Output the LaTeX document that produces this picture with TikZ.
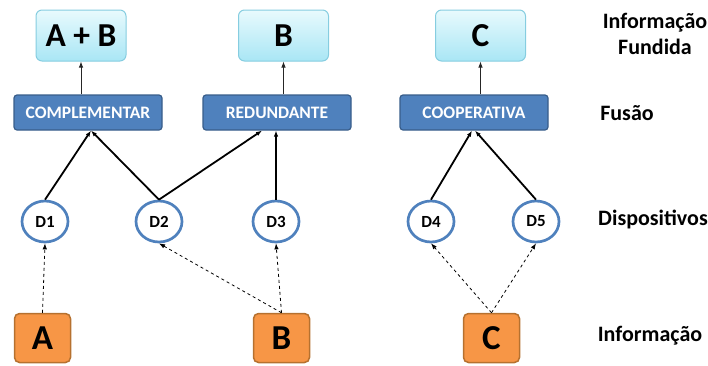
\documentclass[tikz,border=0pt]{standalone}
\usepackage{fontspec}
\setmainfont{Carlito}
\usetikzlibrary{shapes.geometric,arrows.meta}
\definecolor{ciano}{HTML}{A9E6F5}
\definecolor{cianoclaro}{HTML}{E8FAFD}
\definecolor{cianoborda}{HTML}{86CDE0}
\definecolor{azul}{HTML}{4F81BD}
\definecolor{azulborda}{HTML}{385D8A}
\definecolor{laranja}{HTML}{F79646}
\definecolor{laranjaborda}{HTML}{B6712F}
\begin{document}
\begin{tikzpicture}[x=1pt,y=-1pt,line join=round,>={Latex[length=6pt,width=4.5pt]},
	font=\bfseries,
	fundida/.style={draw=cianoborda,line width=1pt,top color=cianoclaro,bottom color=ciano,rounded corners=6pt,minimum width=90pt,minimum height=51pt,inner sep=0pt,font=\fontsize{33.5}{33.5}\bfseries},
	fusao/.style={draw=azulborda,line width=1.2pt,fill=azul,rounded corners=3pt,minimum width=148pt,minimum height=35pt,inner sep=0pt,text=white,font=\fontsize{17.5}{17.5}\bfseries},
	disp/.style={ellipse,draw=azul,line width=2.7pt,fill=white,minimum width=46pt,minimum height=41pt,inner sep=0pt,font=\fontsize{17}{17}\bfseries},
	info/.style={draw=laranjaborda,line width=1.5pt,fill=laranja,rounded corners=5pt,minimum width=56pt,minimum height=49pt,inner sep=0pt,font=\fontsize{35}{35}\bfseries},
	rotulo/.style={align=center,font=\fontsize{22}{26}\bfseries},
	liga/.style={->,line width=1.8pt},
	sobe/.style={->,line width=0.9pt,black!85},
	sinal/.style={->,dashed,line width=0.8pt}]
	\useasboundingbox (0,0) rectangle (708,365);
	%%% Informação fundida
	\node[fundida] (ab) at (81,35.5) {A + B};
	\node[fundida] (b) at (283.5,35.5) {B};
	\node[fundida] (c) at (480.5,35.5) {C};
	%%% Fusão
	\node[fusao] (comp) at (88,112.5) {COMPLEMENTAR};
	\node[fusao] (red) at (277,112.5) {REDUNDANTE};
	\node[fusao] (coop) at (474,112.5) {COOPERATIVA};
	%%% Dispositivos
	\foreach \n/\x in {1/45,2/159,3/276,4/431,5/536}
	\node[disp] (d\n) at (\x,221.5) {D\n};
	%%% Informação
	\node[info] (a) at (42.5,338) {A};
	\node[info] (bi) at (281.5,338) {B};
	\node[info] (ci) at (491.5,338) {C};
	%%% rótulos
	\node[rotulo] (r1) at (655,33.5) {Informação\\Fundida};
	\node[rotulo] (r2) at (627,113) {Fusão};
	\node[rotulo] (r3) at (653,219.5) {Dispositivos};
	\node[rotulo] (r4) at (650,335.5) {Informação};
	%%% ligações
	\draw[sobe] (ab.south|-comp.north) -- (ab.south);
	\draw[sobe] (b.south|-red.north) -- (b.south);
	\draw[sobe] (c.south|-coop.north) -- (c.south);
	\draw[liga] (d1.north) -- ([xshift=3pt]comp.south);
	\draw[liga] (d2.north) -- ([xshift=3pt]comp.south);
	\draw[liga] (d2.north) -- ([xshift=-15pt]red.south);
	\draw[liga] (d3.north) -- ([xshift=-1pt]red.south);
	\draw[liga] (d4.north) -- ([xshift=-2pt]coop.south);
	\draw[liga] (d5.north) -- ([xshift=1pt]coop.south);
	\draw[sinal] (a.north) -- (d1.south);
	\draw[sinal] (bi.north) -- (d2.south);
	\draw[sinal] (bi.north) -- (d3.south);
	\draw[sinal] (ci.north) -- (d4.south);
	\draw[sinal] (ci.north) -- (d5.south);
\end{tikzpicture}
\end{document}
